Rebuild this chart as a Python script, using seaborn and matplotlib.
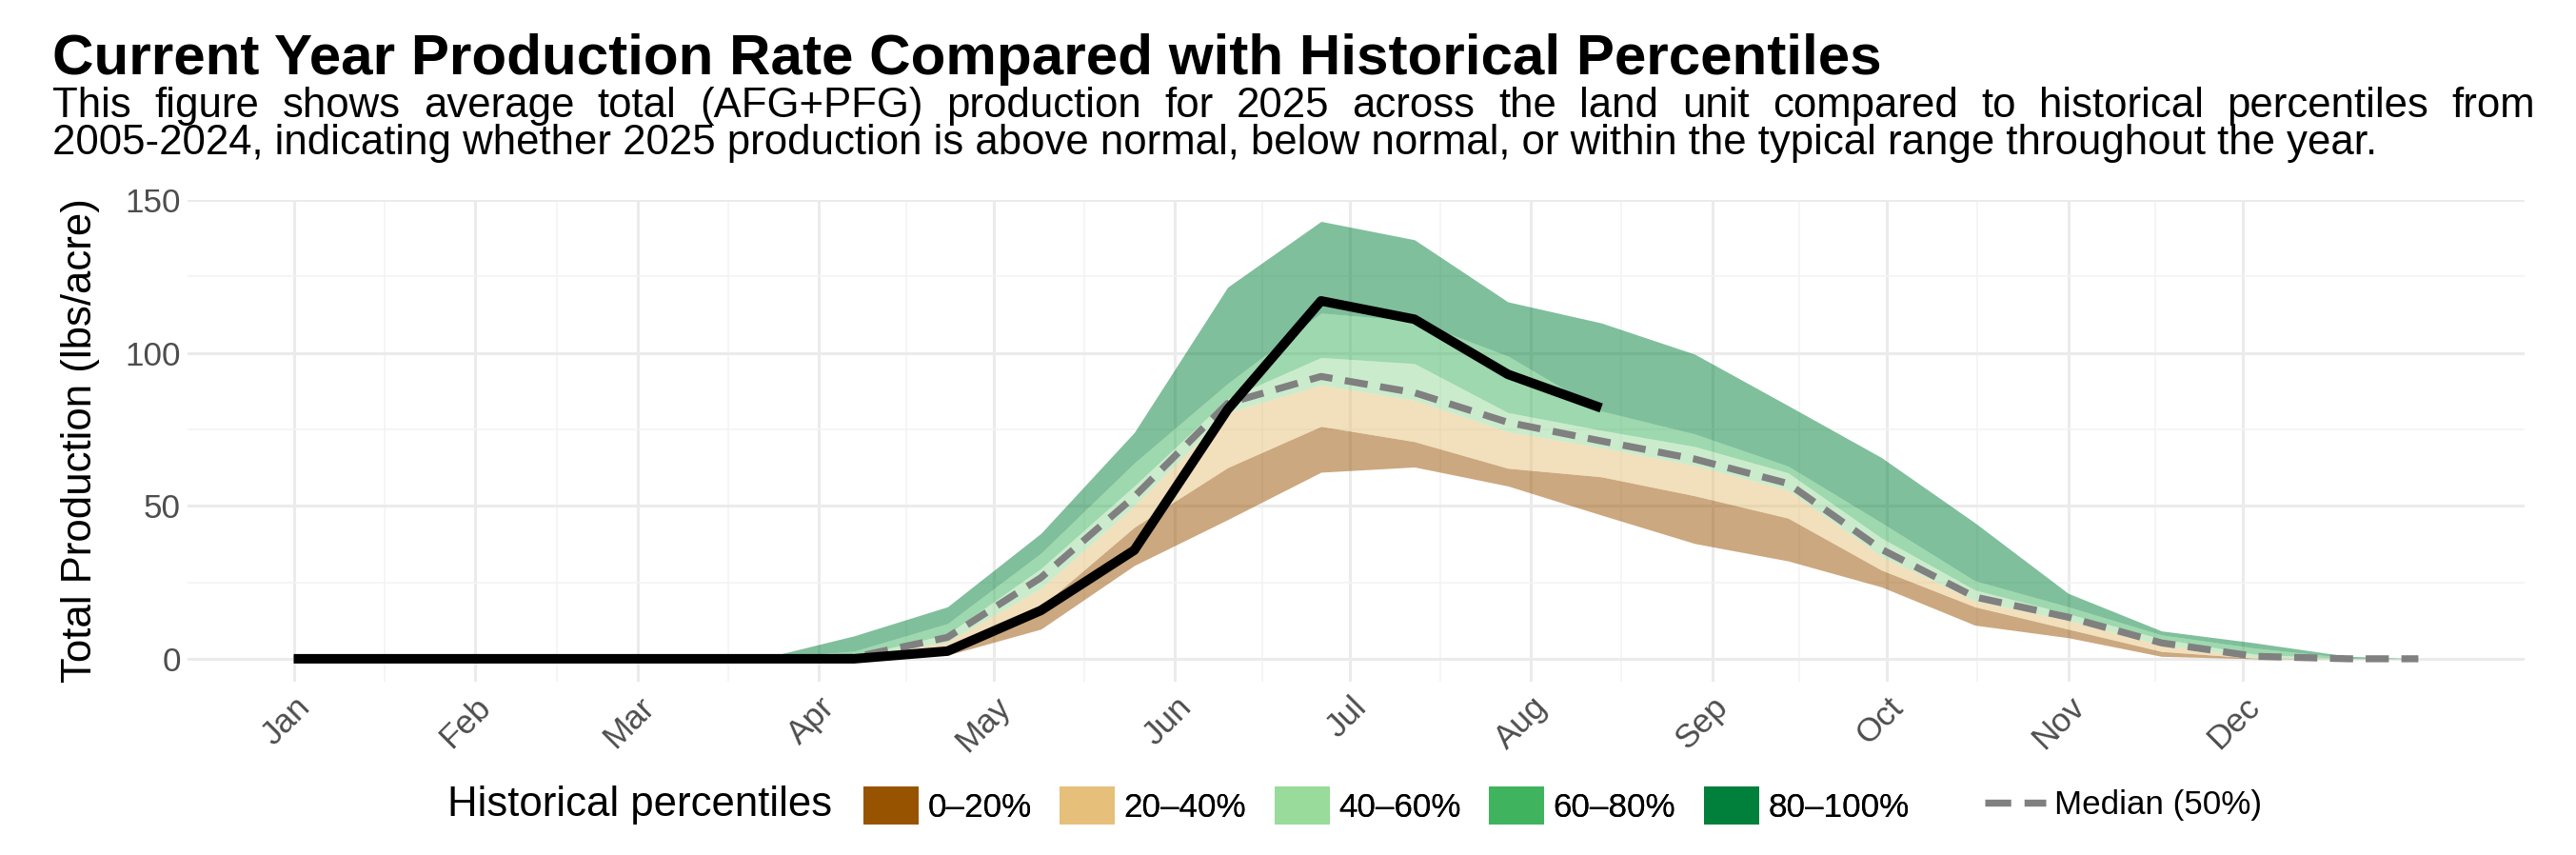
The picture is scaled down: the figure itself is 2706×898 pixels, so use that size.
import numpy as np
import pandas as pd
import matplotlib
matplotlib.use("Agg")
from matplotlib import pyplot as plt
import matplotlib.dates as mdates
from matplotlib.patches import Patch
from matplotlib.lines import Line2D
import seaborn as sns

# 16-day composite dates (plus year end)
dates = ["2025-01-01", "2025-01-17", "2025-02-02", "2025-02-18", "2025-03-06", "2025-03-22",
         "2025-04-07", "2025-04-23", "2025-05-09", "2025-05-25", "2025-06-10", "2025-06-26",
         "2025-07-12", "2025-07-28", "2025-08-13", "2025-08-29", "2025-09-14", "2025-09-30",
         "2025-10-16", "2025-11-01", "2025-11-17", "2025-12-03", "2025-12-19", "2025-12-31"]

# Historical percentile boundaries (lbs/acre)
p0 = [0, 0, 0, 0, 0, 0, 0, 1.2, 9.7, 30.5, 45.5, 61, 62.7, 56.5, 47, 37.7, 32, 23.5, 11, 6.9, 0.8, 0, 0, 0]
p20 = [0, 0, 0, 0, 0, 0, 0, 3.2, 17, 43, 62.5, 76, 71, 62.3, 59.5, 53.3, 46, 29, 17, 9.7, 2.4, 0.2, 0, 0]
p40 = [0, 0, 0, 0, 0, 0, 0.2, 5.5, 23, 50, 80.5, 89.5, 84.5, 74.2, 69, 63.2, 55.2, 33.5, 19, 12.5, 4.5, 0.5, 0, 0]
p60 = [0, 0, 0, 0, 0, 0, 0.8, 8, 29.5, 56.5, 85, 98.5, 96.5, 80.5, 74.7, 69.4, 60.8, 39.5, 22.5, 14.7, 6.5, 1.5, 0, 0]
p80 = [0, 0, 0, 0, 0, 0, 2.5, 11.5, 34.5, 64, 90, 113, 110.5, 99, 81, 73.5, 63, 44.5, 25.5, 17, 7.8, 3.5, 0.3, 0]
p100 = [0, 0, 0, 0, 0, 0, 7.5, 17, 41, 74, 121.5, 143, 137, 116.7, 109.8, 99.6, 82.8, 65.8, 44.5, 21.4, 9.1, 5.2, 0.8, 0]
median = [0, 0, 0, 0, 0, 0, 0.5, 7, 26.5, 53, 83.5, 92.3, 87, 77.3, 71.2, 65.3, 57.3, 35.8, 20.2, 13.6, 5.2, 0.8, 0, 0]

# Current year (2025) production, available through mid-August
current = [0, 0, 0, 0, 0, 0, 0, 2.5, 15.8, 35.5, 81.5, 117, 111, 93, 82]

band_labels = ["0\u201320%", "20\u201340%", "40\u201360%", "60\u201380%", "80\u2013100%"]
band_colors = ["#985300", "#E6C07A", "#98DB9A", "#3FB35E", "#00803A"]
month_labels = ["Jan", "Feb", "Mar", "Apr", "May", "Jun", "Jul", "Aug", "Sep", "Oct", "Nov", "Dec"]

title = "Current Year Production Rate Compared with Historical Percentiles"
subtitle_1 = ("This figure shows average total (AFG+PFG) production for 2025 across the land unit "
              "compared to historical percentiles from")
subtitle_2 = ("2005-2024, indicating whether 2025 production is above normal, below normal, "
              "or within the typical range throughout the year.")

hist = pd.DataFrame({"date": pd.to_datetime(dates), "p0": p0, "p20": p20, "p40": p40,
                     "p60": p60, "p80": p80, "p100": p100, "median": median})
cur = pd.DataFrame({"date": pd.to_datetime(dates[:len(current)]), "value": current})

sns.set_theme(style="whitegrid")
plt.rcParams["font.family"] = ["Liberation Sans", "DejaVu Sans"]
plt.rcParams["text.color"] = "black"
plt.rcParams["axes.labelcolor"] = "black"

base = 31.5
fig = plt.figure(figsize=(27.06, 8.98), dpi=100)
ax = fig.add_axes([197 / 2706, 1 - 716 / 898, (2652 - 197) / 2706, (716 - 210) / 898])

# Percentile ribbons
bounds = ["p0", "p20", "p40", "p60", "p80", "p100"]
for i, color in enumerate(band_colors):
    ax.fill_between(hist["date"], hist[bounds[i]], hist[bounds[i + 1]],
                    color=color, alpha=0.5, linewidth=0, zorder=2)

sns.lineplot(data=hist, x="date", y="median", ax=ax, color="#808080", linewidth=5.3,
             dashes=False, legend=False, zorder=3)
ax.lines[-1].set_dashes((3.3, 1.8))
ax.lines[-1].set_dash_capstyle("butt")

sns.lineplot(data=cur, x="date", y="value", ax=ax, color="black", linewidth=7.2,
             legend=False, zorder=4)
ax.lines[-1].set_solid_capstyle("butt")
ax.lines[-1].set_solid_joinstyle("round")

# Axes, limits, grid
span = hist["date"].max() - hist["date"].min()
ax.set_xlim(hist["date"].min() - 0.05 * span, hist["date"].max() + 0.05 * span)
ax.set_ylim(-7.5, 150)

month_starts = pd.date_range("2025-01-01", periods=12, freq="MS")
major = mdates.date2num(month_starts)
ax.xaxis.set_major_locator(matplotlib.ticker.FixedLocator(major))
ax.xaxis.set_minor_locator(matplotlib.ticker.FixedLocator((major[:-1] + major[1:]) / 2))
ax.set_xticklabels(month_labels)
ax.set_yticks([0, 50, 100, 150])
ax.set_yticks([25, 75, 125], minor=True)

ax.grid(which="major", color="#EBEBEB", linewidth=2.2)
ax.grid(which="minor", color="#F3F3F3", linewidth=1.1)
ax.set_axisbelow(True)
sns.despine(ax=ax, left=True, bottom=True)

ax.tick_params(which="both", length=0)
ax.tick_params(axis="y", labelsize=base * 0.8, labelcolor="#4D4D4D", pad=5)
ax.tick_params(axis="x", labelsize=base * 0.8, labelcolor="#4D4D4D", pad=7)
for lbl in ax.get_xticklabels():
    lbl.set_rotation(45)
    lbl.set_ha("right")
    lbl.set_va("top")
    lbl.set_rotation_mode("anchor")

ax.set_xlabel("")
ax.set_ylabel("Total Production (lbs/acre)", fontsize=base, color="black")
ax.yaxis.set_label_coords(-0.0375, 0.5)

# Title and justified subtitle
fig.text(55 / 2706, 1 - 78 / 898, title, fontsize=base * 1.375, fontweight="bold",
         ha="left", va="baseline", color="black")


def draw_justified(fig, text, y, x0, x1, **kw):
    """
    Draw one line of text spread out to fill the width between x0 and x1.
    """
    words = text.split()
    renderer = fig.canvas.get_renderer()
    objs = [fig.text(0, y, w, ha="left", va="baseline", **kw) for w in words]
    widths = [o.get_window_extent(renderer).width for o in objs]
    fig_w = fig.bbox.width
    gap = ((x1 - x0) * fig_w - sum(widths)) / (len(words) - 1)
    x = x0 * fig_w
    for o, w in zip(objs, widths):
        o.set_x(x / fig_w)
        x += w + gap


draw_justified(fig, subtitle_1, 1 - 123 / 898, 55 / 2706, 2663 / 2706, fontsize=base, color="black")
fig.text(55 / 2706, 1 - 162 / 898, subtitle_2, fontsize=base, ha="left", va="baseline", color="black")

# Legend
leg_y = 1 - 846 / 898
fig.text(470 / 2706, leg_y, "Historical percentiles", fontsize=base, ha="left", va="center", color="black")
band_handles = [Patch(facecolor=c, edgecolor="none") for c in band_colors]
leg1 = fig.legend(band_handles, band_labels, loc="center left", bbox_to_anchor=(907 / 2706, leg_y),
                  ncol=5, frameon=False, fontsize=base * 0.8, handlelength=1.66, handleheight=1.37,
                  handletextpad=0.26, columnspacing=0.85, borderpad=0, borderaxespad=0)
med_handle = Line2D([0], [0], color="#808080", linewidth=5.3, dashes=(3.7, 1.9), dash_capstyle="butt")
leg2 = fig.legend([med_handle], ["Median (50%)"], loc="center left", bbox_to_anchor=(2085 / 2706, leg_y),
                  frameon=False, fontsize=base * 0.8, handlelength=1.84, handletextpad=0.24,
                  borderpad=0, borderaxespad=0)
fig.add_artist(leg1)

fig.savefig("out.png", dpi=100, facecolor="white")
